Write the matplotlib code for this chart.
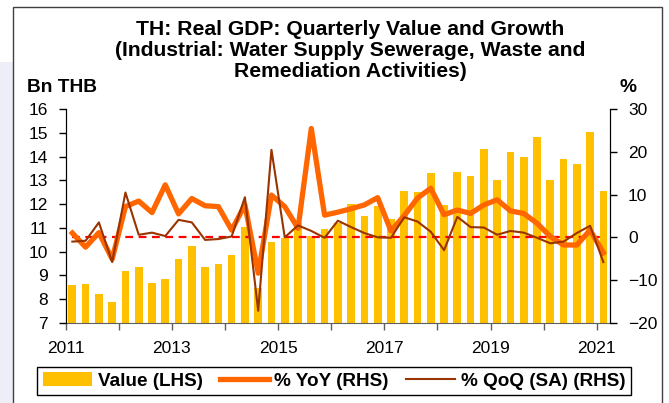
import numpy as np
import matplotlib
matplotlib.use("Agg")
import matplotlib.pyplot as plt
from matplotlib.patches import Rectangle

plt.rcParams['font.family'] = ['Liberation Sans', 'DejaVu Sans']

# 2011Q1 .. 2021Q1
value = [8.59, 8.65, 8.21, 7.87, 9.18, 9.36, 8.69, 8.83, 9.70, 10.24,
         9.35, 9.48, 9.87, 11.05, 8.48, 10.42, 10.59, 11.20, 10.66, 10.94,
         11.20, 12.00, 11.50, 11.94, 11.37, 12.57, 12.52, 13.33, 11.96, 13.37,
         13.20, 14.34, 13.01, 14.19, 13.98, 14.82, 13.03, 13.92, 13.71, 15.03,
         12.57]
yoy = [1.0, -2.3, 1.1, -5.1, 7.2, 8.5, 5.8, 12.3, 5.5, 9.1,
       7.4, 7.2, 1.7, 7.6, -8.4, 9.9, 7.2, 2.1, 25.5, 5.2,
       5.9, 6.7, 7.6, 9.3, 1.5, 5.1, 9.2, 11.5, 5.3, 6.4,
       5.6, 7.6, 8.8, 6.2, 5.6, 3.3, 0.2, -1.8, -1.8, 1.7,
       -3.6]
qoq = [-1.0, -0.8, 3.5, -5.8, 10.5, 0.6, 1.1, 0.3, 4.1, 3.5,
       -0.6, -0.4, 0.2, 9.4, -17.2, 20.5, 0.0, 2.8, 1.5, -0.1,
       3.9, 2.4, 1.0, 0.0, -0.1, 4.7, 3.7, 1.3, -3.0, 4.8,
       2.4, 2.3, 0.6, 1.5, 1.1, -0.1, -1.4, -1.0, 1.0, 2.7,
       -5.8]
year_labels = ['2011', '', '2013', '', '2015', '', '2017', '', '2019', '', '2021']

W, H = 669, 403
fig = plt.figure(figsize=(W / 100, H / 100), dpi=100)
fig.patch.set_facecolor('white')

# background strip + frame
fig.add_artist(Rectangle((0, 0), 13 / W, 1 - 62 / H, transform=fig.transFigure,
                         facecolor='#EEEEF8', edgecolor='none', zorder=0))
fig.add_artist(Rectangle((13 / W, -0.05), (662 - 13) / W, 1.05 - 7 / H,
                         transform=fig.transFigure, fill=False,
                         edgecolor='#404040', lw=1, zorder=0))

ax = fig.add_axes([65.7 / W, 1 - 322.7 / H, (610 - 65.7) / W, (322.7 - 109.3) / H])
ax2 = ax.twinx()

x = np.arange(len(value)) + 0.5
bars = ax.bar(x, value, width=0.58, color='#FFC000', zorder=2)
ax.set_ylim(7, 16)
ax.set_yticks(range(7, 17))
ax.set_xlim(0, len(value))
ax.set_xticks(range(0, len(value) + 1, 4))
ax.set_xticklabels(year_labels)

ax2.plot(x, np.zeros(len(x)), color='#FF0000', lw=1.6, ls=(0, (3.5, 2.5)), zorder=1)
l_yoy, = ax2.plot(x, yoy, color='#FF6600', lw=3.8, solid_joinstyle='round', zorder=2)
l_qoq, = ax2.plot(x, qoq, color='#993300', lw=1.5, zorder=3)
ax2.set_ylim(-20, 30)
ax2.set_yticks(range(-20, 31, 10))

for a in (ax, ax2):
    a.spines['top'].set_visible(False)
    a.tick_params(direction='out', length=5, width=1, labelsize=12.5, pad=8, colors='black')
ax.spines['bottom'].set_color('#606060')
ax2.spines['bottom'].set_visible(False)
ax.spines['left'].set_color('black')
ax2.spines['right'].set_color('black')
ax.tick_params(axis='x', color='#606060', labelcolor='black')

fig.text(350 / W, 1 - 20 / H,
         "TH: Real GDP: Quarterly Value and Growth\n"
         "(Industrial: Water Supply Sewerage, Waste and\n"
         "Remediation Activities)",
         ha='center', va='top', fontsize=15.2, fontweight='bold', linespacing=1.12)
fig.text(27 / W, 1 - 87 / H, "Bn THB", ha='left', va='center', fontsize=13.8, fontweight='bold')
fig.text(628 / W, 1 - 87 / H, "%", ha='center', va='center', fontsize=13.8, fontweight='bold')

leg = fig.legend([bars, l_yoy, l_qoq], ['Value (LHS)', '% YoY (RHS)', '% QoQ (SA) (RHS)'],
                 loc='center', bbox_to_anchor=(334 / W, 1 - 381 / H), ncol=3,
                 prop={'weight': 'bold', 'size': 13.6}, handlelength=2.6, handletextpad=0.3,
                 columnspacing=0.9, fancybox=False, edgecolor='black', framealpha=1,
                 borderpad=0.3)
leg.get_frame().set_linewidth(1)

fig.savefig('out.png', dpi=100)
